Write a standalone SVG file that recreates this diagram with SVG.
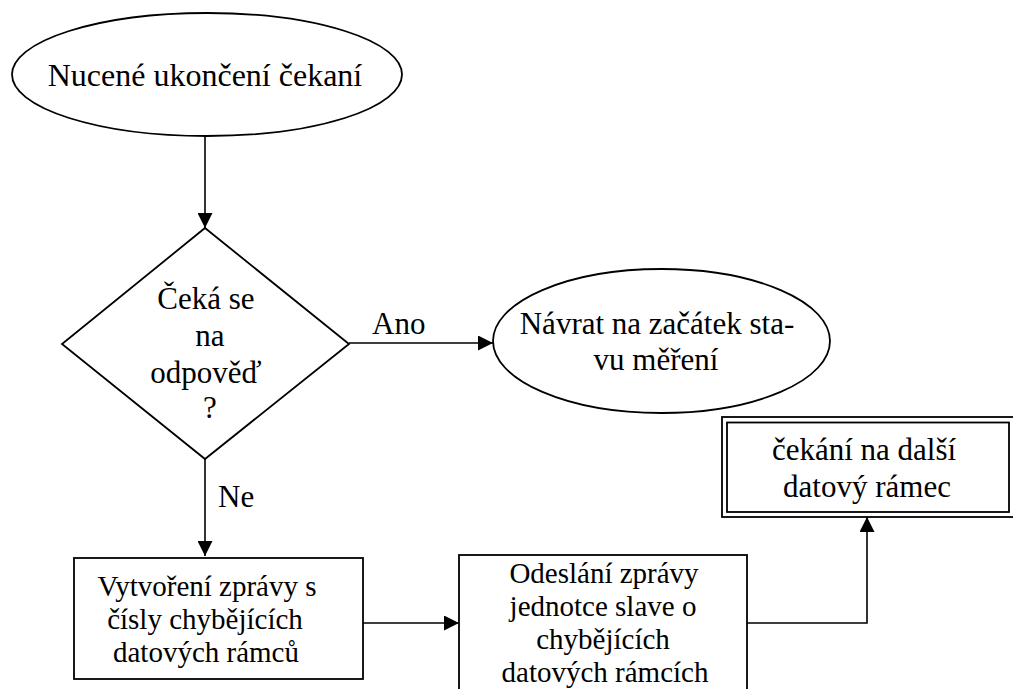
<svg xmlns="http://www.w3.org/2000/svg" width="1013" height="689" viewBox="0 0 1013 689">
  <style>
    .shape { fill: #ffffff; stroke: #000000; stroke-width: 1.8; }
    .edge { fill: none; stroke: #000000; stroke-width: 1.6; }
    .label { fill: #000000; }
    .t32 { font-size: 32px; }
    .t31 { font-size: 31px; }
    .t29 { font-size: 29px; }
    .mid { text-anchor: middle; }
  </style>
  <defs>
    <marker id="arrow" viewBox="0 0 15 15" refX="15" refY="7.5" markerWidth="15" markerHeight="15" markerUnits="userSpaceOnUse" orient="auto">
      <path d="M0,0 L15,7.5 L0,15 Z" fill="#000000"/>
    </marker>
  </defs>

  <rect width="1013" height="689" fill="#ffffff"/>

  <g font-family="'Liberation Serif', 'DejaVu Serif', serif">
  <!-- connectors -->
  <g id="connectors">
    <line class="edge" x1="205" y1="136" x2="205" y2="228" marker-end="url(#arrow)"/>
    <line class="edge" x1="349" y1="343" x2="493" y2="343" marker-end="url(#arrow)"/>
    <text class="label t31" x="372" y="334">Ano</text>
    <line class="edge" x1="205" y1="459" x2="205" y2="556" marker-end="url(#arrow)"/>
    <text class="label t31" x="218" y="507">Ne</text>
    <line class="edge" x1="363" y1="623" x2="459" y2="623" marker-end="url(#arrow)"/>
    <polyline class="edge" points="747,623 867,623 867,517" marker-end="url(#arrow)"/>
  </g>

  <!-- start: forced end of waiting -->
  <g id="start">
    <ellipse class="shape" cx="207" cy="74.5" rx="195" ry="61.5"/>
    <text class="label t32 mid" x="205" y="86">Nucené ukončení čekaní</text>
  </g>

  <!-- decision: waiting for a reply? -->
  <g id="decision">
    <polygon class="shape" points="205,228 349,344 205,459 62,344"/>
    <text class="label t31 mid" x="206" y="309">Čeká se</text>
    <text class="label t31 mid" x="210" y="346">na</text>
    <text class="label t31 mid" x="206" y="383">odpověď</text>
    <text class="label t31 mid" x="210" y="418">?</text>
  </g>

  <!-- return to start of measurement state -->
  <g id="return">
    <ellipse class="shape" cx="661.5" cy="341" rx="168.5" ry="72"/>
    <text class="label t31 mid" x="657" y="334">Návrat na začátek sta-</text>
    <text class="label t31 mid" x="656" y="370">vu měření</text>
  </g>

  <!-- wait for next data frame (double border) -->
  <g id="wait">
    <rect class="shape" x="722" y="417" width="295" height="100"/>
    <rect x="727" y="422.5" width="282" height="89.5" fill="none" stroke="#000000" stroke-width="1.8"/>
    <text class="label t31 mid" x="864" y="460">čekání na další</text>
    <text class="label t31 mid" x="867" y="497">datový rámec</text>
  </g>

  <!-- build message with numbers of missing frames -->
  <g id="build">
    <rect class="shape" x="74" y="558" width="289" height="121"/>
    <text class="label t29 mid" x="207" y="596">Vytvoření zprávy s</text>
    <text class="label t29 mid" x="205" y="629">čísly chybějících</text>
    <text class="label t29 mid" x="206" y="662">datových rámců</text>
  </g>

  <!-- send message to slave unit -->
  <g id="send">
    <rect class="shape" x="459" y="555" width="288" height="150"/>
    <text class="label t29 mid" x="604" y="583">Odeslání zprávy</text>
    <text class="label t29 mid" x="603" y="616">jednotce slave o</text>
    <text class="label t29 mid" x="603" y="649">chybějících</text>
    <text class="label t29 mid" x="605" y="682">datových rámcích</text>
  </g>
  </g>
</svg>
